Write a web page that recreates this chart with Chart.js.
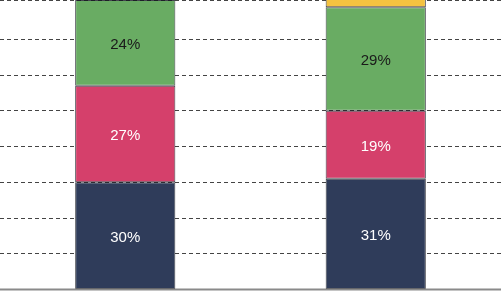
<!DOCTYPE html>
<html>
<head>
<meta charset="utf-8">
<script src="https://cdn.jsdelivr.net/npm/chart.js@4"></script>
<style>
    html, body { margin: 0; padding: 0; background: #fff; }
    #wrap { width: 501px; height: 291px; position: relative; }
</style>
</head>
<body>
<div id="wrap"><canvas id="shareChart"></canvas></div>
<script>
// two columns, four stacked shares each (top share is cut off in the picture)
const groups = ["A", "B"];
const bottomShare = [30, 31];
const secondShare = [27, 19];
const thirdShare = [24, 29];
const topShare = [19, 21];

const seriesColors = ["#2f3c5a", "#d5406b", "#69ac63", "#f4c240"];
const labelColors = ["#ffffff", "#ffffff", "#1a1a1a", "#1a1a1a"];

const shareLabels = {
    id: "shareLabels",
    afterDatasetsDraw(chart) {
        const ctx = chart.ctx;
        const area = chart.chartArea;
        ctx.save();
        // solid base line under the columns
        ctx.strokeStyle = "#8a8a8a";
        ctx.lineWidth = 2;
        ctx.beginPath();
        ctx.moveTo(area.left, area.bottom);
        ctx.lineTo(area.right, area.bottom);
        ctx.stroke();

        ctx.font = "15px 'Liberation Sans', Arial, sans-serif";
        ctx.textAlign = "center";
        ctx.textBaseline = "middle";
        chart.data.datasets.forEach((ds, i) => {
            if (i === 3) return;
            chart.getDatasetMeta(i).data.forEach((bar, j) => {
                const mid = (bar.y + bar.base) / 2 + 2;
                ctx.fillStyle = labelColors[i];
                ctx.fillText(ds.data[j] + "%", bar.x, mid);
            });
        });
        ctx.restore();
    }
};

new Chart(document.getElementById("shareChart").getContext("2d"), {
    type: "bar",
    data: {
        labels: groups,
        datasets: [bottomShare, secondShare, thirdShare, topShare].map((d, i) => ({
            data: d,
            backgroundColor: seriesColors[i],
            borderColor: "rgba(20,22,32,0.8)",
            borderWidth: 1,
            borderSkipped: false,
            barPercentage: 0.8,
            categoryPercentage: 0.5
        }))
    },
    options: {
        responsive: true,
        maintainAspectRatio: false,
        animation: false,
        layout: { padding: { left: 0, right: 0, top: 0, bottom: 1.5 } },
        plugins: {
            legend: { display: false },
            tooltip: { enabled: false }
        },
        scales: {
            x: {
                stacked: true,
                display: false
            },
            y: {
                stacked: true,
                min: 0,
                max: 81,
                ticks: { display: false, stepSize: 10 },
                grid: {
                    color: "#444",
                    lineWidth: 1,
                    drawTicks: false
                },
                border: { display: false, dash: [4, 3] }
            }
        }
    },
    plugins: [shareLabels]
});
</script>
</body>
</html>
